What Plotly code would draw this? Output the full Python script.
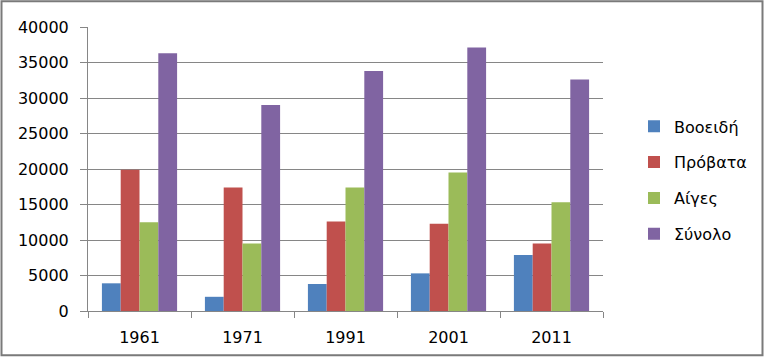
import plotly.graph_objects as go

years = ["1961", "1971", "1991", "2001", "2011"]
vooeidi = [3900, 2000, 3800, 5300, 7900]
provata = [19900, 17400, 12600, 12300, 9500]
aiges = [12500, 9500, 17400, 19500, 15300]
synolo = [36300, 29000, 33800, 37100, 32600]

names = ["Βοοειδή", "Πρόβατα", "Αίγες", "Σύνολο"]
colors = ["#4F81BD", "#C0504D", "#9BBB59", "#8064A2"]
series = [vooeidi, provata, aiges, synolo]

W, H = 765, 359
L, R, T, B = 88, 603, 27, 313

fig = go.Figure()
for n, c, s in zip(names, colors, series):
    fig.add_trace(go.Bar(x=years, y=s, name=n, marker=dict(color=c, line=dict(width=0)),
                         legendgroup=n))

def px_x(p):
    return (p - L) / (R - L)

def px_y(q):
    return (B - q) / (B - T)

font = dict(family="DejaVu Sans", size=16, color="#000000")

fig.update_layout(
    width=W, height=H,
    margin=dict(l=L, r=W - R, t=T, b=H - B, pad=0),
    paper_bgcolor="white", plot_bgcolor="white",
    barmode="group", bargap=0.27, bargroupgap=0,
    font=font,
    legend=dict(x=px_x(634), y=px_y(110), xanchor="left", yanchor="top",
                font=dict(family="DejaVu Sans", size=16), tracegroupgap=12,
                bgcolor="rgba(0,0,0,0)"),
    xaxis=dict(type="category", tickson="boundaries", ticks="outside", ticklen=6,
               tickcolor="#868686", showline=True, linecolor="#868686", linewidth=1,
               showgrid=False, tickfont=font, ticklabelstandoff=12),
    yaxis=dict(range=[0, 40000], dtick=5000, tickformat="d", ticks="outside", ticklen=7,
               tickcolor="#868686", showline=True, linecolor="#868686", linewidth=1,
               showgrid=True, gridcolor="#868686", gridwidth=1, zeroline=False,
               tickfont=font, ticklabelstandoff=8),
    shapes=[
        dict(type="rect", xref="paper", yref="paper",
             x0=px_x(1.5), x1=px_x(762.5), y0=px_y(357.5), y1=px_y(1),
             line=dict(color="#7a7a7a", width=2), fillcolor="rgba(0,0,0,0)", layer="above"),
    ],
)

fig.write_html("out.html", config={"displayModeBar": False},
               post_script="document.body.style.margin='0px';document.body.style.overflow='hidden';")
